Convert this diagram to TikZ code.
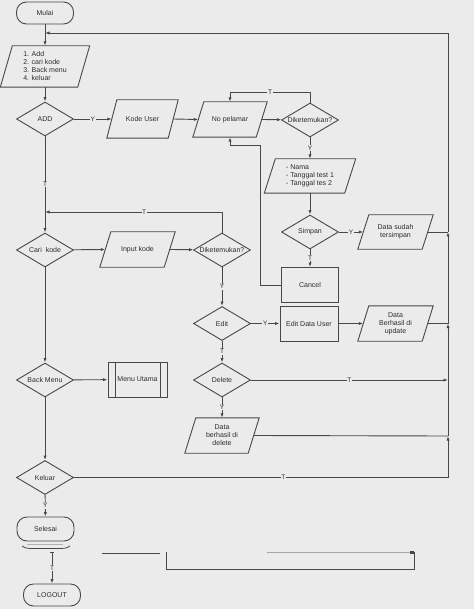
\documentclass[tikz,border=0pt]{standalone}
\usepackage{fontspec}
\setmainfont{Liberation Sans}
\usetikzlibrary{shapes.geometric,arrows.meta}
\definecolor{bg}{HTML}{EBEBEB}
\definecolor{ln}{HTML}{484848}
\definecolor{tx}{HTML}{2C2C2C}
\newcommand\iobox[2]{\draw[draw=ln, line width=0.9pt] ([xshift=#2]#1.north west) -- (#1.north east) -- ([xshift=-#2]#1.south east) -- (#1.south west) -- cycle;}
\begin{document}
\begin{tikzpicture}[x=1pt,y=-1pt,
  every node/.style={font=\fontsize{7}{8}\selectfont, text=tx},
  base/.style={draw=ln, line width=0.9pt},
  term/.style={base, rectangle, rounded corners=10pt, minimum width=57pt, minimum height=22pt, inner sep=0pt},
  dec/.style={base, diamond, aspect=1.7, minimum width=57pt, minimum height=34pt, inner sep=0pt},
  io/.style={rectangle, inner sep=0pt, align=center},
  proc/.style={base, rectangle, minimum width=57pt, minimum height=35pt, inner sep=1pt},
  conn/.style={draw=ln, line width=0.9pt},
  arr/.style={conn, -{Latex[length=4.5pt,width=3.2pt]}},
  lbl/.style={fill=bg, inner sep=0.6pt, font=\fontsize{6.5}{7}\selectfont}
]
\fill[bg] (0,0) rectangle (474,609);
\useasboundingbox (0,0) rectangle (474,609);

% nodes
\node[term] (mulai) at (45,13) {Mulai};
\node[io, minimum width=89pt, minimum height=41pt, align=left] (menu) at (45,66.5) {1. Add\\2. cari kode\\3. Back menu\\4. keluar};
\iobox{menu}{12pt}
\node[dec] (add) at (45,119) {ADD};
\node[io, minimum width=71pt, minimum height=38pt] (kode) at (142.5,119) {Kode User};
\iobox{kode}{10pt}
\node[io, minimum width=74pt, minimum height=35pt] (nopel) at (230,119.5) {No pelamar};
\iobox{nopel}{11pt}
\node[dec] (dik1) at (310,120) {Diketemukan?};
\node[io, minimum width=91pt, minimum height=34pt, align=left] (nama) at (310,176) {- Nama\\- Tanggal test 1\\- Tanggal tes 2};
\iobox{nama}{11pt}
\node[dec] (simpan) at (310,232) {Simpan};
\node[io, minimum width=75pt, minimum height=34pt] (sudah) at (395.5,232) {Data sudah\\tersimpan};
\iobox{sudah}{11pt}
\node[proc] (cancel) at (310,285) {Cancel};
\node[dec] (cari) at (45,250) {Cari\ \ kode};
\node[io, minimum width=75pt, minimum height=35pt] (input) at (137.5,249.5) {Input kode};
\iobox{input}{11pt}
\node[dec] (dik2) at (222,250) {Diketemukan?};
\node[dec] (edit) at (222,323.5) {Edit};
\node[proc, minimum width=58pt] (editdu) at (309,323.5) {Edit Data User};
\node[io, minimum width=75pt, minimum height=35pt] (upd) at (395.5,323.5) {Data\\Berhasil di\\update};
\iobox{upd}{11pt}
\node[dec] (delete) at (222,380) {Delete};
\node[io, minimum width=74pt, minimum height=35pt] (deleted) at (222,435.5) {Data\\berhasil di\\delete};
\iobox{deleted}{11pt}
\node[dec] (back) at (45,380) {Back Menu};
\node[proc, minimum width=59pt] (utama) at (137.5,379.5) {Menu Utama};
\draw[base] ([xshift=7.5pt]utama.north west) -- ([xshift=7.5pt]utama.south west);
\draw[base] ([xshift=-7.5pt]utama.north east) -- ([xshift=-7.5pt]utama.south east);
\node[dec] (keluar) at (45,477.5) {Keluar};
\node[term, minimum height=24pt] (selesai) at (45.5,529) {Selesai};
\node[term] (logout) at (52,595) {LOGOUT};

% helper coordinates
\coordinate (j0) at (45,33);
\coordinate (j1) at (45,212);
\coordinate (c1) at (260,145);
\coordinate (r232) at (448,232);
\coordinate (r323) at (448,323.5);
\coordinate (r380) at (448,380);
\coordinate (r436) at (448,436);
\coordinate (r477) at (448,477.5);
\coordinate (rtop) at (448,33);
\coordinate (s1) at (52,552);

% connectors
\draw[arr] (mulai) -- (menu);
\draw[arr] (menu) -- (add);
\draw[arr] (add) -- node[lbl]{Y} ([xshift=5pt]kode.west);
\draw[arr] ([xshift=-5pt]kode.east) -- ([xshift=5.5pt]nopel.west);
\draw[arr] ([xshift=-5.5pt]nopel.east) -- (dik1);
\draw[arr] (dik1.north) -- ++(0,-10) -| node[lbl, pos=0.25]{T} (nopel.north);
\draw[arr] (dik1) -- node[lbl]{Y} (nama.north);
\draw[arr] (nama.south) -- (simpan);
\draw[arr] (simpan) -- node[lbl]{Y} ([xshift=5.5pt]sudah.west);
\draw[arr] (simpan) -- node[lbl]{T} (cancel);
\draw[arr] (cancel.west) -| (c1) -| (nopel.south);
\draw[arr] (add) -- node[lbl]{T} (cari);
\draw[arr] (cari) -- ([xshift=5.5pt]input.west);
\draw[arr] ([xshift=-5.5pt]input.east) -- (dik2);
\draw[arr] (dik2.north) |- node[lbl, pos=0.72]{T} (j1);
\draw[arr] (dik2) -- node[lbl]{Y} (edit);
\draw[arr] (edit) -- node[lbl]{Y} (editdu);
\draw[arr] (editdu) -- ([xshift=5.5pt]upd.west);
\draw[arr] (edit) -- node[lbl]{T} (delete);
\draw[arr] (delete) -- node[lbl]{T} (r380);
\draw[arr] (delete) -- node[lbl]{Y} (deleted.north);
\draw[arr] (cari) -- (back);
\draw[arr] (back) -- (utama);
\draw[arr] (back) -- (keluar);
\draw[arr] (keluar) -- node[lbl]{Y} (selesai);
\draw[conn] (keluar) -- node[lbl, pos=0.56]{T} (r477);
\draw[arr] (r477) -- (r436);
\draw[conn] ([xshift=-5.5pt]deleted.east) -- (r436);
\draw[arr] (r436) -- (r323);
\draw[conn] ([xshift=-5.5pt]upd.east) -- (r323);
\draw[arr] (r323) -- (r232);
\draw[conn] ([xshift=-5.5pt]sudah.east) -- (r232);
\draw[arr] (r232) -- (rtop) -- (j0);

% fragments below Selesai
\draw[gray!60, line width=0.5pt] (27,544.5) -- (63,544.5);
\draw[ln, line width=0.8pt] (22,546) .. controls (25,548.5) and (29,548.5) .. (34,548.5) -- (58,548.5) .. controls (63,548.5) and (67,548.5) .. (70,546);
\draw[conn] (50,552) -- (54,552);
\draw[arr] (s1) -- node[lbl]{T} (logout);
\draw[ln, line width=0.7pt] (102,553) -- (160,553);
\draw[conn] (166,552) -- (166,569) -- (414,569) -- (414,552);
\draw[gray!70, line width=0.5pt] (267,552.5) -- (412,552.5);
\fill[ln] (410,551) rectangle (414,554);
\end{tikzpicture}
\end{document}
